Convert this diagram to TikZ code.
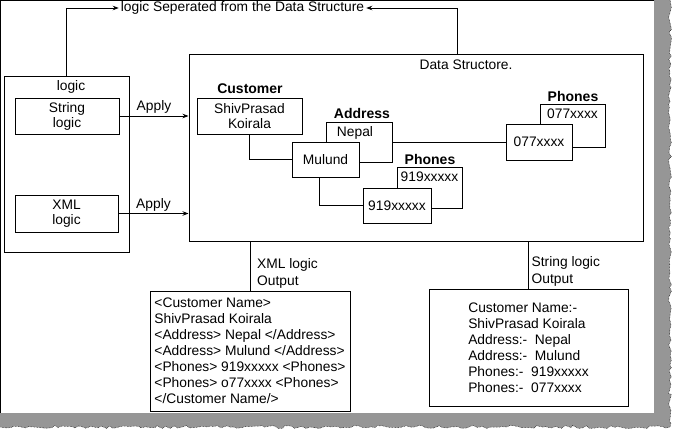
\documentclass[tikz,border=0pt]{standalone}
\usepackage{fontspec}
\setmainfont{Liberation Sans}
\usepackage{tikz}
\usetikzlibrary{arrows.meta, positioning, decorations.pathmorphing}
\definecolor{mydark}{RGB}{0,0,0}
\definecolor{shadowgray}{RGB}{150,150,150}
\tikzset{
  box/.style={rectangle, draw=mydark, fill=white, inner sep=2pt,
    align=center, font=\fontsize{13.8}{15}\selectfont, line width=1pt},
  outbox/.style={rectangle, draw=mydark, fill=white, inner sep=2pt,
    align=left, font=\fontsize{13.8}{16}\selectfont, line width=1pt},
  tag/.style={font=\fontsize{14}{16}\selectfont\bfseries, inner sep=2pt},
  txt/.style={font=\fontsize{13.8}{15}\selectfont, inner sep=2pt},
  arrow/.style={-{Stealth[length=6pt,width=4.5pt]}, line width=0.8pt, color=mydark},
  line/.style={line width=1pt, color=mydark}
}
\begin{document}
\begin{tikzpicture}[x=1pt, y=-1pt,
  rough/.style={decoration={random steps, segment length=4pt, amplitude=1.5pt}}
]
\useasboundingbox (0,0) rectangle (686,445);
% Page
\fill[white] (0,0) rectangle (686,445);
\pgfmathsetseed{12}
\fill[shadowgray] (654,0) -- (670,0) decorate[rough] {-- (670,427) -- (0,427)} -- (0,413) -- (654,413) -- cycle;
\pgfmathsetseed{12}
\draw[densely dotted, line width=0.5pt] (670,0) decorate[rough] {-- (670,427) -- (0,427)};
\draw[line] (654,0.5) -- (0.5,0.5) -- (0.5,413);

% Title
\node[txt] (title) at (242.5,8) {logic Seperated from the Data Structure};

% Logic
\node[box, minimum width=125, minimum height=176] (logicbox) at (66.5,164) {};
\node[txt] (logictag) at (71,87) {logic};
\node[box, minimum width=104, minimum height=36] (strlogic) at (67,116) {String\\logic};
\node[box, minimum width=103, minimum height=37] (xmllogic) at (66.5,213.5) {XML\\logic};

% Data structure
\node[box, minimum width=454, minimum height=187] (databox) at (416,147.5) {};
\node[txt] (datatag) at (466,65) {Data Structore.};

% Customer
\node[tag] (custtag) at (250,89) {Customer};
\node[box, minimum width=105, minimum height=36] (cust) at (249.5,116) {ShivPrasad\\Koirala};

% Address
\node[tag] (addrtag) at (362,113) {Address};
\node[box, minimum width=66, minimum height=40,
  label={[txt, anchor=north, xshift=-4pt, yshift=-3pt]north:Nepal}] (nepal) at (359,142) {};
\node[box, minimum width=67, minimum height=35] (mulund) at (325.5,159.5) {Mulund};

% Phones (lower)
\node[tag] (phtagA) at (430,159) {Phones};
\node[box, minimum width=65, minimum height=41,
  label={[txt, anchor=north, yshift=-3pt]north:919xxxxx}] (phAback) at (429.5,187.5) {};
\node[box, minimum width=68, minimum height=35] (phAfront) at (397,205.5) {919xxxxx};

% Phones (upper)
\node[tag] (phtagB) at (573,96) {Phones};
\node[box, minimum width=65, minimum height=43,
  label={[txt, anchor=north, yshift=-3pt]north:077xxxx}] (phBback) at (572.5,125.5) {};
\node[box, minimum width=66, minimum height=36] (phBfront) at (539,142) {077xxxx};

% Outputs
\node[outbox, minimum width=200, minimum height=120] (xmlout) at (250,351) {<Customer Name>\\ShivPrasad Koirala\\<Address> Nepal </Address>\\<Address> Mulund </Address>\\<Phones> 919xxxxx <Phones>\\<Phones> o77xxxx <Phones>\\</Customer Name/>};
\node[txt, anchor=south west, align=left, font=\fontsize{13.8}{17}\selectfont] (xmltag) at ([xshift=5pt]xmlout.north) {XML logic\\Output};
\node[outbox, minimum width=199, minimum height=117] (strout) at (528.5,347.5) {Customer Name:-\\ShivPrasad Koirala\\Address:-\ \ Nepal\\Address:-\ \ Mulund\\Phones:-\ \ 919xxxxx\\Phones:-\ \ 077xxxx};
\node[txt, anchor=south west, align=left, font=\fontsize{13.8}{17}\selectfont] (strtag) at ([xshift=1pt]strout.north) {String logic\\Output};

% Connectors
\draw[arrow] (logicbox.north) |- (title.west);
\draw[arrow] ([xshift=41pt]databox.north) |- (title.east);
\draw[arrow] (strlogic.east) -- node[txt, above] {Apply} (strlogic.east -| databox.west);
\draw[arrow] (xmllogic.east) -- node[txt, above] {Apply} (xmllogic.east -| databox.west);
\draw[line] (cust.south) |- (mulund.west);
\draw[line] (nepal.east) -- (phBfront.west);
\draw[line] ([xshift=-6.5pt]mulund.south) |- (phAfront.west);
\draw[line] (xmlout.north) -- (xmlout.north |- databox.south);
\draw[line] (strout.north) -- (strout.north |- databox.south);
\end{tikzpicture}
\end{document}
